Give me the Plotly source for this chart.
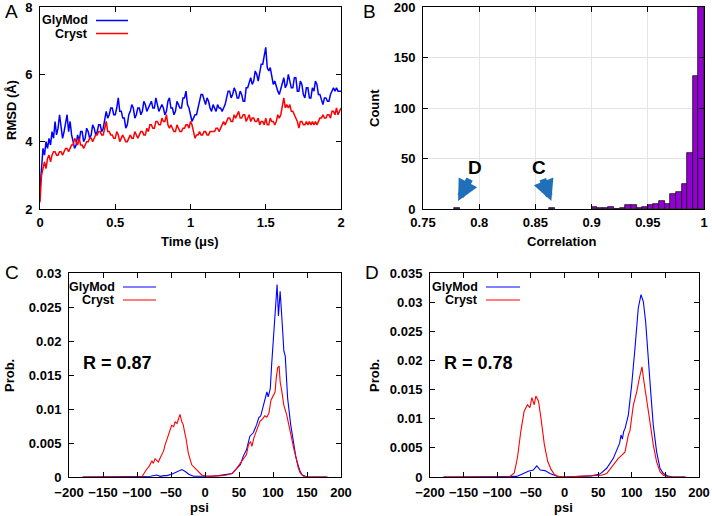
import plotly.graph_objects as go

W, H = 712, 516
FONT = "Liberation Sans"
BLUE = "#0000ff"
RED = "#ff0000"

# ---------------- Panel A: RMSD vs time ----------------
time_us = [round(i * 0.01, 2) for i in range(201)]
rmsd_glymod = [
    2.6, 3.3, 3.8, 3.6, 4.0, 3.8, 4.1, 3.9, 4.3, 4.1,
    4.6, 4.2, 4.4, 4.8, 4.5, 4.1, 4.3, 4.6, 4.8, 4.3,
    4.6, 4.2, 4.0, 3.8, 3.9, 4.2, 4.0, 4.3, 4.3, 4.0,
    4.1, 4.4, 4.3, 4.1, 4.2, 4.5, 4.4, 4.2, 4.3, 4.5,
    4.5, 4.3, 4.4, 4.7, 4.9, 4.7, 4.8, 5.0, 5.0, 4.8,
    4.8, 5.0, 5.3, 4.9, 4.9, 4.7, 4.7, 4.4, 4.5, 4.8,
    4.9, 5.1, 5.0, 4.7, 4.8, 5.0, 5.0, 4.8, 4.9, 5.2,
    5.1, 4.9, 5.0, 5.1, 5.2, 5.0, 5.0, 5.3, 5.1, 4.9,
    5.0, 5.1, 5.0, 4.8, 4.9, 5.2, 5.3, 5.0, 5.0, 4.8,
    4.9, 5.2, 5.1, 5.0, 5.0, 5.3, 5.3, 5.5, 5.1, 5.0,
    4.8, 4.6, 4.7, 4.8, 4.8, 5.0, 5.1, 5.4, 5.4, 5.2,
    5.1, 5.3, 5.2, 5.0, 4.9, 5.1, 5.0, 4.9, 5.1, 5.0,
    5.0, 4.9, 5.0, 5.1, 5.3, 5.5, 5.5, 5.3, 5.4, 5.6,
    5.5, 5.3, 5.3, 5.5, 5.4, 5.2, 5.2, 5.6, 5.6, 5.8,
    5.9, 5.7, 5.8, 6.1, 6.0, 5.8, 6.1, 6.3, 6.3, 6.5,
    6.8, 6.2, 6.1, 6.2, 5.9, 5.7, 5.8, 5.6, 5.5, 5.4,
    5.6, 5.8, 5.9, 5.6, 5.7, 6.0, 5.8, 5.6, 5.6, 5.9,
    5.9, 5.5, 5.5, 5.8, 5.7, 5.4, 5.3, 5.6, 5.6, 5.3,
    5.3, 5.6, 5.5, 5.8, 5.7, 5.4, 5.4, 5.2, 5.1, 5.3,
    5.3, 5.2, 5.2, 5.4, 5.5, 5.6, 5.5, 5.6, 5.5, 5.5,
    5.5,
]
rmsd_cryst = [
    2.2, 3.0, 3.2, 3.4, 3.2, 3.5, 3.6, 3.4, 3.6, 3.7,
    3.7, 3.6, 3.6, 3.7, 3.7, 3.6, 3.7, 3.8, 3.8, 3.7,
    3.8, 3.9, 3.9, 4.1, 4.0, 3.9, 4.1, 3.9, 3.9, 3.8,
    3.9, 4.0, 4.0, 4.1, 4.1, 4.0, 4.1, 4.2, 4.2, 4.3,
    4.3, 4.2, 4.2, 4.4, 4.6, 4.3, 4.3, 4.2, 4.2, 4.1,
    4.1, 4.3, 4.2, 4.0, 4.1, 4.2, 4.1, 4.0, 4.0, 4.1,
    4.2, 4.1, 4.1, 4.3, 4.2, 4.1, 4.2, 4.3, 4.3, 4.2,
    4.2, 4.4, 4.3, 4.5, 4.5, 4.4, 4.4, 4.6, 4.6, 4.5,
    4.5, 4.7, 4.6, 4.6, 4.8, 4.5, 4.4, 4.5, 4.4, 4.3,
    4.3, 4.5, 4.4, 4.3, 4.3, 4.4, 4.4, 4.5, 4.5, 4.4,
    4.6, 4.5, 4.3, 4.1, 4.2, 4.2, 4.3, 4.2, 4.2, 4.3,
    4.3, 4.2, 4.2, 4.3, 4.3, 4.3, 4.3, 4.4, 4.4, 4.3,
    4.4, 4.5, 4.6, 4.5, 4.6, 4.7, 4.7, 4.6, 4.6, 4.8,
    4.7, 4.8, 4.9, 4.7, 4.7, 4.8, 4.8, 4.6, 4.7, 4.8,
    4.6, 4.7, 4.7, 4.6, 4.6, 4.7, 4.5, 4.6, 4.6, 4.5,
    4.7, 4.5, 4.5, 4.7, 4.6, 4.6, 4.5, 4.6, 4.8, 4.7,
    4.8, 5.1, 5.3, 5.0, 5.1, 5.0, 5.1, 4.9, 4.9, 4.8,
    4.7, 4.6, 4.4, 4.6, 4.6, 4.5, 4.5, 4.6, 4.5, 4.6,
    4.5, 4.6, 4.5, 4.6, 4.5, 4.6, 4.7, 4.7, 4.8, 4.7,
    4.7, 4.8, 4.8, 4.7, 4.9, 4.9, 4.8, 5.0, 4.8, 4.9,
    5.0,
]

# ---------------- Panel B: correlation histogram ----------------
corr_bin_center = [0.7800, 0.8650,
                   0.9025, 0.9075, 0.9125, 0.9175, 0.9225, 0.9275, 0.9325, 0.9375,
                   0.9425, 0.9475, 0.9525, 0.9575, 0.9625, 0.9675, 0.9725, 0.9775,
                   0.9825, 0.9875, 0.9925, 0.9975]
corr_count = [1, 1,
              2, 1, 1, 2, 0, 1, 4, 4,
              1, 2, 4, 5, 8, 5, 15, 17,
              25, 55, 132, 200]

# ---------------- Panel C: psi distribution (R = 0.87) ----------------
psiC_glymod = [-180, -100, -80, -71, -66, -60, -56, -49, -44, -39,
               -34, -29, -24, -17, -10, 0, 10, 20, 30, 40,
               46, 52, 56, 61, 66, 71, 76, 79, 82, 86,
               89, 91, 93, 96, 98, 100.5, 103, 106, 108, 110.5,
               113, 116, 118, 121.5, 126, 130, 133.7, 136.7, 140, 143,
               150, 180]
probC_glymod = [0, 0, 0.0001, 0.0003, 0.0001, 0.0002, 0.0002, 0.0004, 0.0006, 0.0009,
                0.0011, 0.0008, 0.0004, 0.0001, 0.0001, 0, 0.0001, 0.0002, 0.0003, 0.0005,
                0.0012, 0.0018, 0.0030, 0.0040, 0.0060, 0.0065, 0.0077, 0.0087, 0.0090, 0.0105,
                0.0120, 0.0125, 0.0118, 0.0130, 0.0165, 0.0203, 0.0240, 0.0283, 0.0237, 0.0273,
                0.0235, 0.0185, 0.0178, 0.0116, 0.0077, 0.0048, 0.0029, 0.0018, 0.0008, 0.0003,
                0, 0]
psiC_cryst = [-180, -93, -86, -82, -78, -76, -73.5, -71, -68.6, -66,
              -63.7, -61, -58.8, -56, -54, -51, -49, -46, -44, -41,
              -38.5, -36.8, -34.3, -32, -30, -28, -24.5, -22, -19.6, -14.7,
              -9.9, -4.9, 2.5, 10, 17, 25, 32, 40, 46, 52,
              57, 61, 64, 67, 69, 72, 75, 78, 81, 85,
              88, 91, 94, 97, 100, 103, 105, 107, 109, 110.5,
              113, 116, 120, 124, 128, 131, 134, 137, 140, 145,
              150, 180]
probC_cryst = [0, 0, 0.0011, 0.0016, 0.0024, 0.0020, 0.0027, 0.0024, 0.0022, 0.0028,
               0.0032, 0.0038, 0.0047, 0.0055, 0.0064, 0.0070, 0.0076, 0.0074, 0.0081, 0.0079,
               0.0086, 0.0092, 0.0082, 0.0077, 0.0066, 0.0057, 0.0035, 0.0025, 0.0018, 0.0013,
               0.0008, 0.0003, 0.0001, 0.0001, 0.0001, 0.0002, 0.0003, 0.0005, 0.0012, 0.0020,
               0.0028, 0.0033, 0.0048, 0.0052, 0.0045, 0.0058, 0.0066, 0.0073, 0.0082, 0.0086,
               0.0090, 0.0088, 0.0094, 0.0113, 0.0120, 0.0125, 0.0148, 0.0161, 0.0163, 0.0140,
               0.0126, 0.0105, 0.0092, 0.0072, 0.0057, 0.0040, 0.0028, 0.0014, 0.0006, 0.0001,
               0, 0]

# ---------------- Panel D: psi distribution (R = 0.78) ----------------
psiD_glymod = [-180, -80, -71, -61, -53.8, -46.4, -41.3, -36, -29, -21.6,
               -14.2, -8, 0, 20, 40, 52.8, 62.7, 72.6, 80, 82,
               84, 86, 88, 90, 94.9, 99.9, 104.8, 109.7, 113.8, 117.2,
               120.7, 124.7, 128.2, 132, 137, 142, 147, 153, 160, 180]
probD_glymod = [0, 0, 0.0001, 0.0006, 0.0010, 0.0012, 0.0019, 0.0012, 0.0011, 0.0006,
                0.0002, 0, 0, 0.0001, 0.0002, 0.0005, 0.0015, 0.0032, 0.0052, 0.0058,
                0.0072, 0.0065, 0.0078, 0.0083, 0.0106, 0.0158, 0.0221, 0.0290, 0.0313, 0.0301,
                0.0266, 0.0209, 0.0146, 0.0089, 0.0043, 0.0015, 0.0006, 0.0002, 0, 0]
psiD_cryst = [-180, -82, -74.7, -70, -65, -60, -55, -51.5, -48.5, -45,
              -42.6, -38.6, -35, -30, -25, -20, -15.4, -10, 0, 20,
              40, 55, 62.7, 72.6, 80, 85, 90, 94.9, 97.4, 102.3,
              107.4, 111.2, 115.2, 118.2, 122.2, 127, 132, 137, 142, 147,
              155, 180]
probD_cryst = [0, 0, 0.0007, 0.0033, 0.0078, 0.0113, 0.0124, 0.0119, 0.0136, 0.0124,
               0.0139, 0.0130, 0.0101, 0.0056, 0.0027, 0.0013, 0.0005, 0.0001, 0, 0.0001,
               0.0002, 0.0003, 0.0006, 0.0020, 0.0032, 0.0037, 0.0043, 0.0072, 0.0080, 0.0123,
               0.0146, 0.0169, 0.0189, 0.0163, 0.0135, 0.0095, 0.0055, 0.0026, 0.0009, 0.0003,
               0, 0]


def px(x):
    return x / W


def py(y):
    return 1 - y / H


fig = go.Figure()

fig.add_trace(go.Scatter(x=time_us, y=rmsd_glymod, mode="lines", line=dict(color=BLUE, width=1.5),
                         xaxis="x", yaxis="y", showlegend=False))
fig.add_trace(go.Scatter(x=time_us, y=rmsd_cryst, mode="lines", line=dict(color=RED, width=1.5),
                         xaxis="x", yaxis="y", showlegend=False))
fig.add_trace(go.Bar(x=corr_bin_center, y=corr_count, width=0.005,
                     marker=dict(color="#9400d3", line=dict(color="black", width=0.7)),
                     xaxis="x2", yaxis="y2", showlegend=False))
fig.add_trace(go.Scatter(x=psiC_glymod, y=probC_glymod, mode="lines", line=dict(color=BLUE, width=1.1),
                         xaxis="x3", yaxis="y3", showlegend=False))
fig.add_trace(go.Scatter(x=psiC_cryst, y=probC_cryst, mode="lines", line=dict(color=RED, width=1.1),
                         xaxis="x3", yaxis="y3", showlegend=False))
fig.add_trace(go.Scatter(x=psiD_glymod, y=probD_glymod, mode="lines", line=dict(color=BLUE, width=1.1),
                         xaxis="x4", yaxis="y4", showlegend=False))
fig.add_trace(go.Scatter(x=psiD_cryst, y=probD_cryst, mode="lines", line=dict(color=RED, width=1.1),
                         xaxis="x4", yaxis="y4", showlegend=False))

tickfont = dict(family=FONT, size=13, color="black", weight="bold")


def axis(**kw):
    d = dict(showline=True, linecolor="black", linewidth=1, mirror="ticks",
             ticks="inside", ticklen=5, tickcolor="black", tickwidth=1,
             tickfont=tickfont, showgrid=False, zeroline=False, fixedrange=True,
             automargin=False, ticklabeloverflow="allow")
    d.update(kw)
    return d


def xaxis(standoff=1, **kw):
    return axis(ticklabelstandoff=standoff, **kw)


def yaxis(**kw):
    return axis(ticklabelstandoff=4, **kw)


top = [py(209), py(7)]
bot = [py(477), py(273)]

fig.update_layout(
    width=W, height=H, margin=dict(l=0, r=0, t=0, b=0, pad=0),
    paper_bgcolor="white", plot_bgcolor="white",
    font=dict(family=FONT, color="black"),
    bargap=0,
    xaxis=xaxis(domain=[px(40), px(341)], range=[0, 2], tickvals=[0, 0.5, 1, 1.5, 2],
                ticktext=["0", "0.5", "1", "1.5", "2"], anchor="y"),
    yaxis=yaxis(domain=top, range=[2, 8], tickvals=[2, 4, 6, 8], anchor="x"),
    xaxis2=xaxis(domain=[px(423), px(704)], range=[0.75, 1.0],
                 tickvals=[0.75, 0.8, 0.85, 0.9, 0.95, 1.0],
                 ticktext=["0.75", "0.8", "0.85", "0.9", "0.95", "1"],
                 showgrid=True, gridcolor="#e4e4e4", gridwidth=1, anchor="y2"),
    yaxis2=yaxis(domain=top, range=[0, 200], tickvals=[0, 50, 100, 150, 200],
                 showgrid=True, gridcolor="#e4e4e4", gridwidth=1, anchor="x2"),
    xaxis3=xaxis(standoff=3, domain=[px(69), px(341)], range=[-200, 200],
                 tickvals=[-200, -150, -100, -50, 0, 50, 100, 150, 200], anchor="y3"),
    yaxis3=yaxis(domain=bot, range=[0, 0.03],
                 tickvals=[0, 0.005, 0.01, 0.015, 0.02, 0.025, 0.03],
                 ticktext=["0", "0.005", "0.01", "0.015", "0.02", "0.025", "0.03"], anchor="x3"),
    xaxis4=xaxis(standoff=3, domain=[px(430), px(699)], range=[-200, 200],
                 tickvals=[-200, -150, -100, -50, 0, 50, 100, 150, 200], anchor="y4"),
    yaxis4=yaxis(domain=bot, range=[0, 0.035],
                 tickvals=[0, 0.005, 0.01, 0.015, 0.02, 0.025, 0.03, 0.035],
                 ticktext=["0", "0.005", "0.01", "0.015", "0.02", "0.025", "0.03", "0.035"],
                 anchor="x4"),
)

ann = []
shapes = []


def text(x, y, s, size=13, bold=True, xanchor="center", angle=0):
    ann.append(dict(x=px(x), y=py(y), xref="paper", yref="paper", text=s, showarrow=False,
                    xanchor=xanchor, yanchor="middle", textangle=angle,
                    font=dict(family=FONT, size=size, color="black",
                              weight="bold" if bold else "normal")))


# panel letters
text(11, 11, "A", size=19, bold=False)
text(369, 11, "B", size=19, bold=False)
text(12, 272, "C", size=19, bold=False)
text(372, 272, "D", size=19, bold=False)

# axis titles
text(12, 110, "RMSD (Å)", angle=-90)
text(190, 242, "Time (μs)")
text(374, 108, "Count", angle=-90)
text(561, 242, "Correlation")
text(9, 376, "Prob.", angle=-90)
text(199, 507, "psi")
text(374, 376, "Prob.", angle=-90)
text(563, 507, "psi")

# in-plot labels
text(117, 363, "R = 0.87", size=18)
text(479, 363, "R = 0.78", size=18)


# gnuplot-style keys (text then sample line)
def key(xr, y, label, color, x0, x1, w):
    text(xr, y, label, size=12.5, xanchor="right")
    shapes.append(dict(type="line", xref="paper", yref="paper", x0=px(x0), x1=px(x1),
                       y0=py(y), y1=py(y), line=dict(color=color, width=w)))


key(90, 20.5, "GlyMod", BLUE, 96, 128, 1.5)
key(90, 33.5, "Cryst", RED, 96, 128, 1.5)
key(117, 287, "GlyMod", BLUE, 123, 156, 1.2)
key(117, 300, "Cryst", RED, 123, 156, 1.2)
key(480, 287, "GlyMod", BLUE, 486, 520, 1.2)
key(480, 300, "Cryst", RED, 486, 520, 1.2)

# panel B arrows and labels
ann.append(dict(x=0.796, y=41, xref="x2", yref="y2", text="D", showarrow=False,
                font=dict(family=FONT, size=19, color="black", weight="bold")))
ann.append(dict(x=0.853, y=41, xref="x2", yref="y2", text="C", showarrow=False,
                font=dict(family=FONT, size=19, color="black", weight="bold")))
for (hx, hy, tx, ty) in [(0.7812, 8, 0.7922, 31), (0.8642, 8, 0.8560, 31)]:
    ann.append(dict(x=hx, y=hy, ax=tx, ay=ty, xref="x2", yref="y2", axref="x2", ayref="y2",
                    text="", showarrow=True, arrowhead=2, arrowsize=0.6, arrowwidth=7,
                    arrowcolor="#1f70b8", standoff=0, startstandoff=0))

fig.update_layout(annotations=ann, shapes=shapes)
fig.write_html("out.html", config={"displayModeBar": False},
               post_script="document.body.style.margin='0px';")
